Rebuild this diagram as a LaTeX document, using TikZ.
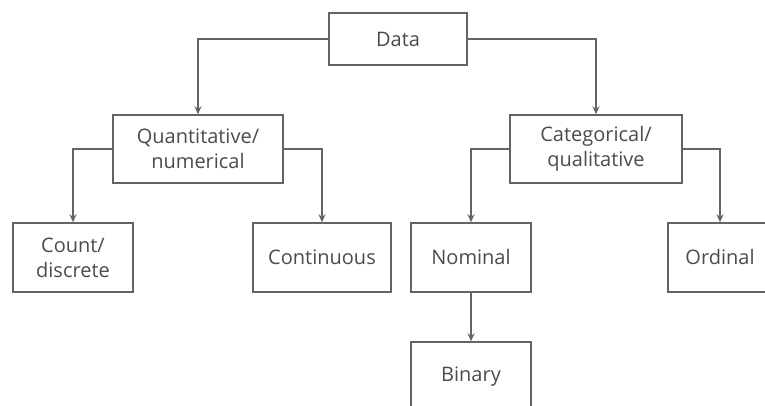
\documentclass[tikz,border=0pt]{standalone}
\usepackage{fontspec}
\setmainfont{Open Sans}
\usetikzlibrary{arrows.meta}

\begin{document}
\begin{tikzpicture}[x=1pt, y=1pt,
  box/.style={draw=linegray, line width=1.4pt, text=textgray, align=center,
    inner sep=0pt, font=\fontsize{20}{25}\selectfont},
  link/.style={draw=linegray, line width=1.4pt, -{Stealth[length=8pt, width=7pt]}}]
\definecolor{linegray}{RGB}{100,100,100}
\definecolor{textgray}{RGB}{75,75,75}
\clip (0,0) rectangle (765,406);
% top
\node[box, minimum width=138, minimum height=52] (data) at (398,367) {Data};
% second row
\node[box, minimum width=170, minimum height=68] (quant) at (198,257) {Quantitative/\\numerical};
\node[box, minimum width=172, minimum height=68] (categ) at (596,257) {Categorical/\\qualitative};
% third row
\node[box, minimum width=120, minimum height=69] (count) at (73,148.5) {Count/\\discrete};
\node[box, minimum width=138, minimum height=69] (cont) at (322,148.5) {Continuous};
\node[box, minimum width=120, minimum height=69] (nominal) at (471,148.5) {Nominal};
\node[box, minimum width=104, minimum height=69] (ordinal) at (720,148.5) {Ordinal};
% bottom
\node[box, minimum width=120, minimum height=69] (binary) at (471,29.5) {Binary};
\draw[link] (data.west) -| (quant.north);
\draw[link] (data.east) -| (categ.north);
\draw[link] (quant.west) -| (count.north);
\draw[link] (quant.east) -| (cont.north);
\draw[link] (categ.west) -| (nominal.north);
\draw[link] (categ.east) -| (ordinal.north);
\draw[link] (nominal) -- (binary);
\end{tikzpicture}
\end{document}
